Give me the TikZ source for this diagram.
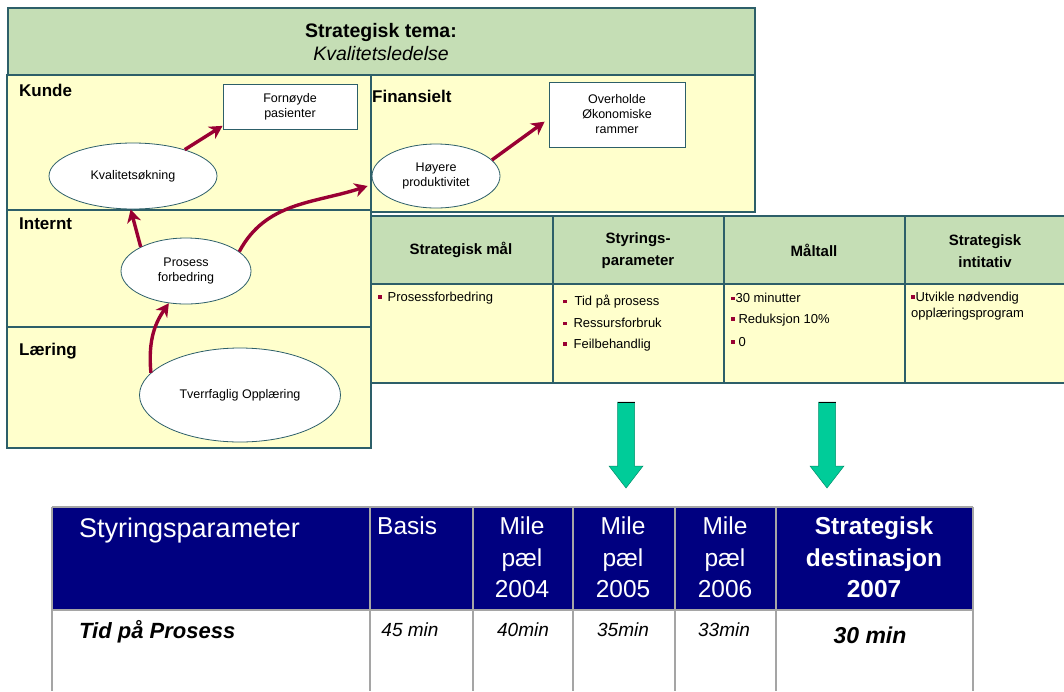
\documentclass[tikz,border=0pt]{standalone}
\usepackage{fontspec}
\setmainfont{Liberation Sans}
\usetikzlibrary{shapes.geometric,arrows.meta}
\definecolor{hdrgreen}{RGB}{197,222,181}
\definecolor{paleyellow}{RGB}{255,255,204}
\definecolor{edgeteal}{RGB}{45,95,105}
\definecolor{maroonred}{RGB}{153,0,51}
\definecolor{navyblue}{RGB}{0,0,128}
\definecolor{arrowgreen}{RGB}{0,204,153}
\definecolor{gridgray}{RGB}{165,165,165}
\newcommand{\fs}[2]{\fontsize{#1}{#2}\selectfont}
\newcommand{\sqb}{\textcolor{maroonred}{\raisebox{2.6pt}{\rule{3.4pt}{3.4pt}}}}
\begin{document}
\begin{tikzpicture}[x=1pt,y=-1pt,
  panel/.style={draw=edgeteal,line width=1.2pt},
  oval/.style={ellipse,draw=edgeteal,fill=white,line width=0.8pt,inner sep=0pt,align=center,font=\fs{12.5}{15}},
  goalbox/.style={rectangle,draw=edgeteal,fill=white,line width=0.8pt,inner sep=0pt,align=center,font=\fs{12.5}{15}},
  lanelabel/.style={anchor=west,inner sep=0pt,font=\fs{17}{20}\bfseries},
  link/.style={maroonred,line width=3.4pt,-{Stealth[length=13pt,width=14pt,inset=4pt]}},
  thead/.style={align=center,inner sep=0pt,font=\fs{15}{22}\bfseries},
  tbody/.style={anchor=west,inner sep=0pt,font=\fs{13}{16}},
  bighead/.style={align=center,inner sep=0pt,text=white,font=\fs{24.5}{31.5}},
  bigcell/.style={inner sep=0pt,font=\fs{19}{22}\itshape},
  grid/.style={gridgray,line width=1.4pt},
  greenarrow/.style={fill=arrowgreen,draw=arrowgreen!70!black,line width=0.5pt}
]
\useasboundingbox (0,0) rectangle (1064,691);
\fill[white] (0,0) rectangle (1064,691);

% ---------- top map ----------
\fill[hdrgreen] (8,8) rectangle (755,75);
\fill[paleyellow] (7,75) rectangle (371,448);
\fill[paleyellow] (371,75) rectangle (755,212);
\draw[panel] (8,8) rectangle (755,75);
\draw[panel] (7,75) rectangle (371,210);
\draw[panel] (7,210) rectangle (371,327);
\draw[panel] (7,327) rectangle (371,448);
\draw[panel] (371,75) rectangle (755,212);

\node[align=center,inner sep=0pt,font=\fs{19.5}{23}] (tema) at (381,42)
  {\textbf{Strategisk tema:}\\\textit{Kvalitetsledelse}};

\node[lanelabel] (kunde) at (19,90) {Kunde};
\node[lanelabel] (internt) at (19,224) {Internt};
\node[lanelabel] (laering) at (19,351) {Læring};
\node[lanelabel] (finans) at (372,96) {Finansielt};

\node[goalbox,minimum width=134pt,minimum height=45pt] (forn) at (290,106.5) {Fornøyde\\pasienter};
\node[goalbox,minimum width=136pt,minimum height=65pt] (overh) at (617,114.5) {Overholde\\Økonomiske\\rammer};
\node[oval,minimum width=168pt,minimum height=66pt] (kval) at (133,176) {Kvalitetsøkning};
\node[oval,minimum width=128pt,minimum height=64pt] (hoy) at (436,176) {Høyere\\produktivitet};
\node[oval,minimum width=130pt,minimum height=66pt] (pros) at (186,271) {Prosess\\forbedring};
\node[oval,minimum width=201pt,minimum height=94pt] (tverr) at (240,395) {Tverrfaglig Opplæring};

\draw[link] (kval.27) -- (forn.196);
\draw[link] (pros.152) -- (kval.266);
\draw[link] (pros.20) to[out=62,in=198] ([xshift=-4pt,yshift=-10pt]hoy.west);
\draw[link] (tverr.166) to[out=95,in=235] (pros.242);
\draw[link] (hoy.16) -- ([xshift=-4pt]overh.186);

% ---------- scorecard table ----------
\fill[hdrgreen] (371,216) rectangle (1064,284);
\fill[paleyellow] (371,284) rectangle (1064,383);
\draw[panel] (371,216) -- (1064,216);
\draw[panel] (371,284) -- (1064,284);
\draw[panel] (371,383) -- (1064,383);
\draw[panel] (371,216) -- (371,383);
\foreach \x in {553,724,905} \draw[panel] (\x,216) -- (\x,383);

\node[thead] (h1) at (461,250) {Strategisk mål};
\node[thead] (h2) at (638,251) {Styrings-\\parameter};
\node[thead] (h3) at (814,250) {Måltall};
\node[thead] (h4) at (985,251) {Strategisk\\intitativ};

\node[tbody] (c1) at (378,298) {\sqb\hspace{6pt}Prosessforbedring};
\node[tbody] (c2a) at (563,302) {\sqb\hspace{8pt}Tid på prosess};
\node[tbody] (c2b) at (563,323) {\sqb\hspace{7pt}Ressursforbruk};
\node[tbody] (c2c) at (563,345) {\sqb\hspace{7pt}Feilbehandlig};
\node[tbody] (c3a) at (731,298) {\sqb\hspace{1pt}30 minutter};
\node[tbody] (c3b) at (731,320) {\sqb\hspace{4pt}Reduksjon 10\%};
\node[tbody] (c3c) at (731,342) {\sqb\hspace{4pt}0};
\node[tbody,align=left] (c4) at (911,306) {\sqb\hspace{1pt}Utvikle nødvendig\\opplæringsprogram};

% ---------- green arrows ----------
\foreach \cx in {626,827} {
  \filldraw[greenarrow] (\cx-8.5,402) -- (\cx+8.5,402) -- (\cx+8.5,466) -- (\cx+17,466)
     -- (\cx,488) -- (\cx-17,466) -- (\cx-8.5,466) -- cycle;
  \draw[black,line width=1.5pt] (\cx-8.5,402.5) -- (\cx+8.5,402.5);
}

% ---------- milestone table ----------
\fill[navyblue] (52,507) rectangle (973,610);
\draw[grid] (52,507) -- (973,507);
\draw[grid] (52,610) -- (973,610);
\foreach \x in {52,370,473,573,675,776,973} \draw[grid] (\x,507) -- (\x,691);

\node[bighead,anchor=west,font=\fs{27}{31}] (sp) at (79,531) {Styringsparameter};
\node[bighead,anchor=north west] (basis) at (377,517) {Basis};
\node[bighead,anchor=north] (m4) at (522,517) {Mile\\pæl\\2004};
\node[bighead,anchor=north] (m5) at (623,517) {Mile\\pæl\\2005};
\node[bighead,anchor=north] (m6) at (725,517) {Mile\\pæl\\2006};
\node[bighead,anchor=north,font=\fs{24.5}{31.5}\bfseries] (dest) at (874,517) {Strategisk\\destinasjon\\2007};

\node[bigcell,anchor=west,font=\fs{22}{26}\bfseries\itshape] (tid) at (79,632) {Tid på Prosess};
\node[bigcell] (v1) at (410,630) {45 min};
\node[bigcell] (v2) at (523,630) {40min};
\node[bigcell] (v3) at (623,630) {35min};
\node[bigcell] (v4) at (724,630) {33min};
\node[bigcell,font=\fs{23}{26}\bfseries\itshape] (v5) at (870,635) {30 min};
\end{tikzpicture}
\end{document}
